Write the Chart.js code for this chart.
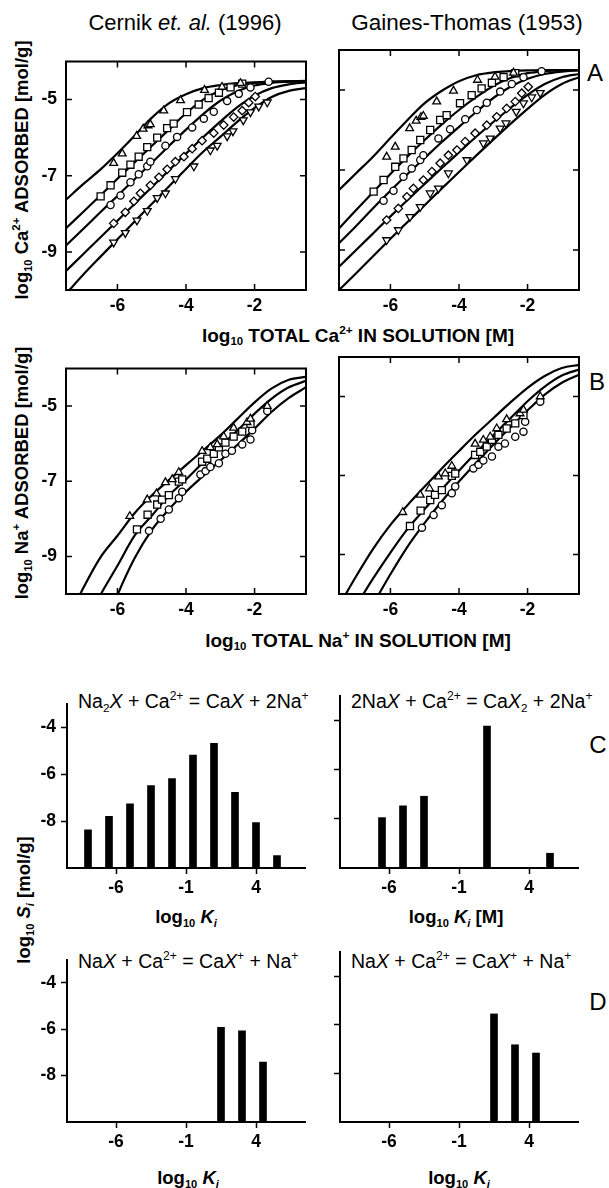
<!DOCTYPE html>
<html><head><meta charset="utf-8">
<script src="https://cdn.jsdelivr.net/npm/chart.js@4.4.1/dist/chart.umd.min.js"></script>
<style>
html,body{margin:0;padding:0;background:#fff;}
#fig{position:relative;width:609px;height:1188px;overflow:hidden;font-family:'Liberation Sans',Arial,Helvetica,sans-serif;color:#000;}
canvas{position:absolute;}
.t{position:absolute;white-space:nowrap;line-height:1;transform:translate(-50%,-50%);}
.l{transform:translate(0,-50%);}
.r{transform:translate(-50%,-50%) rotate(-90deg);}
.b{font-weight:bold;}
sub{font-size:0.6em;vertical-align:-0.35em;line-height:0;}
sup{font-size:0.62em;vertical-align:0.65em;line-height:0;}
</style></head><body><div id="fig">
<div class="t" style="left:185px;top:23px;font-size:22px">Cernik <i>et. al.</i> (1996)</div>
<div class="t" style="left:467px;top:23px;font-size:22.5px">Gaines-Thomas (1953)</div>
<div class="t" style="left:595px;top:73px;font-size:24px">A</div>
<div class="t" style="left:597px;top:382px;font-size:24px">B</div>
<div class="t" style="left:598px;top:745px;font-size:24px">C</div>
<div class="t" style="left:598px;top:1002px;font-size:24px">D</div>
<div class="t b" style="left:358px;top:335px;font-size:19px">log<sub>10</sub> TOTAL Ca<sup>2+</sup> IN SOLUTION [M]</div>
<div class="t b" style="left:358px;top:640px;font-size:19px">log<sub>10</sub> TOTAL Na<sup>+</sup> IN SOLUTION [M]</div>
<div class="t r b" style="left:22px;top:170px;font-size:18.5px">log<sub>10</sub> Ca<sup>2+</sup> ADSORBED [mol/g]</div>
<div class="t r b" style="left:22px;top:473px;font-size:18.5px">log<sub>10</sub> Na<sup>+</sup> ADSORBED [mol/g]</div>
<div class="t r b" style="left:24px;top:900px;font-size:18.5px">log<sub>10</sub> <i>S<sub>i</sub></i> [mol/g]</div>
<div class="t l" style="left:78px;top:702px;font-size:19.5px">Na<sub>2</sub><i>X</i> + Ca<sup>2+</sup> = Ca<i>X</i> + 2Na<sup>+</sup></div>
<div class="t l" style="left:351px;top:702px;font-size:19.5px">2Na<i>X</i> + Ca<sup>2+</sup> = Ca<i>X</i><sub>2</sub> + 2Na<sup>+</sup></div>
<div class="t l" style="left:78px;top:962px;font-size:19.5px">Na<i>X</i> + Ca<sup>2+</sup> = Ca<i>X</i><sup>+</sup> + Na<sup>+</sup></div>
<div class="t l" style="left:351px;top:962px;font-size:19.5px">Na<i>X</i> + Ca<sup>2+</sup> = Ca<i>X</i><sup>+</sup> + Na<sup>+</sup></div>
<div class="t b" style="left:186px;top:917px;font-size:18.5px">log<sub>10</sub> <i>K<sub>i</sub></i></div>
<div class="t b" style="left:456px;top:917px;font-size:18.5px">log<sub>10</sub> <i>K<sub>i</sub></i> [M]</div>
<div class="t b" style="left:188px;top:1178px;font-size:18.5px">log<sub>10</sub> <i>K<sub>i</sub></i></div>
<div class="t b" style="left:459px;top:1178px;font-size:18.5px">log<sub>10</sub> <i>K<sub>i</sub></i></div>
</div>
<script>
// ---------- DATA ----------
const xGrid = [-7.5,-7,-6.5,-6,-5.5,-5,-4.5,-4,-3.5,-3,-2.5,-2,-1.5,-1,-0.5];
const caTickX = [-6,-4,-2];
const caTickY = [-9,-7,-5];

// Ca2+ model curves (Cernik et al.)
const caCerTri = [-7.63,-7.22,-6.84,-6.41,-5.95,-5.48,-5.10,-4.86,-4.70,-4.62,-4.57,-4.55,-4.53,-4.52,-4.52];
const caCerSq  = [-8.38,-7.95,-7.52,-7.08,-6.65,-6.22,-5.79,-5.36,-5.00,-4.76,-4.62,-4.56,-4.53,-4.52,-4.51];
const caCerCi  = [-8.83,-8.40,-7.96,-7.53,-7.09,-6.66,-6.22,-5.79,-5.38,-5.03,-4.78,-4.63,-4.56,-4.53,-4.52];
const caCerDi  = [-9.50,-9.06,-8.62,-8.18,-7.74,-7.30,-6.86,-6.42,-5.99,-5.58,-5.20,-4.90,-4.70,-4.60,-4.55];
const caCerDt  = [-10.10,-9.60,-9.13,-8.67,-8.20,-7.74,-7.28,-6.82,-6.37,-5.98,-5.58,-5.22,-4.93,-4.77,-4.70];
// Ca2+ model curves (Gaines-Thomas)
const caGTTri = [-7.50,-7.08,-6.66,-6.20,-5.75,-5.33,-5.02,-4.78,-4.63,-4.56,-4.53,-4.51,-4.50,-4.50,-4.50];
const caGTSq  = [-8.46,-8.00,-7.55,-7.10,-6.66,-6.25,-5.86,-5.50,-5.18,-4.90,-4.70,-4.58,-4.53,-4.51,-4.50];
const caGTCi  = [-8.83,-8.40,-7.95,-7.52,-7.10,-6.70,-6.30,-5.92,-5.55,-5.20,-4.92,-4.72,-4.60,-4.54,-4.51];
const caGTDi  = [-9.42,-9.00,-8.58,-8.16,-7.75,-7.35,-6.95,-6.56,-6.17,-5.80,-5.45,-5.12,-4.85,-4.68,-4.60];
const caGTDt  = [-10.00,-9.58,-9.15,-8.72,-8.30,-7.88,-7.46,-7.05,-6.64,-6.24,-5.85,-5.47,-5.12,-4.85,-4.68];

// Ca2+ measured points
const caTriX = [-6.11,-5.86,-5.44,-5.25,-5.11,-5.04,-4.65,-4.16,-3.46,-2.95,-2.41];
const caTriY = [-6.67,-6.42,-5.96,-5.77,-5.68,-5.65,-5.29,-5.02,-4.75,-4.67,-4.57];
const caSqX = [-6.49,-6.20,-5.86,-5.62,-5.38,-5.13,-4.84,-4.55,-4.36,-3.97,-3.63,-3.34,-3.04,-2.70,-2.36];
const caSqY = [-7.54,-7.25,-6.92,-6.71,-6.50,-6.25,-6.00,-5.75,-5.63,-5.33,-5.13,-4.96,-4.82,-4.68,-4.58];
const caCiX = [-6.20,-5.91,-5.62,-5.38,-5.13,-5.04,-4.60,-4.26,-3.82,-3.48,-3.19,-2.80,-2.46,-2.12,-1.59];
const caCiY = [-7.77,-7.52,-7.17,-6.96,-6.75,-6.63,-6.21,-5.98,-5.73,-5.50,-5.32,-5.04,-4.85,-4.68,-4.53];
const caDiX = [-6.11,-5.77,-5.52,-5.33,-5.04,-4.79,-4.55,-4.31,-4.06,-3.82,-3.53,-3.19,-2.90,-2.61,-2.36,-2.17,-1.98];
const caDiY = [-8.25,-7.96,-7.67,-7.46,-7.25,-7.04,-6.83,-6.63,-6.50,-6.29,-6.08,-5.88,-5.67,-5.46,-5.29,-5.08,-4.92];
const caDtX = [-6.11,-5.77,-5.43,-5.13,-4.84,-4.60,-4.31,-3.77,-3.29,-3.09,-2.80,-2.63,-2.33,-2.12,-1.88,-1.63];
const caDtY = [-8.75,-8.50,-8.17,-7.92,-7.58,-7.46,-7.08,-6.75,-6.33,-6.21,-5.96,-5.83,-5.54,-5.33,-5.18,-5.07];

// Na+ model curves (Cernik et al.)
const naCerTri = [-10.80,-9.85,-9.03,-8.45,-7.85,-7.38,-6.97,-6.57,-6.18,-5.78,-5.34,-4.90,-4.53,-4.30,-4.22];
const naCerSq  = [-11.80,-10.90,-10.03,-9.25,-8.45,-7.92,-7.38,-6.95,-6.50,-6.07,-5.65,-5.20,-4.80,-4.50,-4.33];
const naCerCi  = [-13.60,-12.40,-11.20,-10.03,-9.05,-8.30,-7.75,-7.28,-6.86,-6.45,-6.03,-5.60,-5.15,-4.78,-4.50];
// Na+ model curves (Gaines-Thomas)
const naGTTri = [-10.30,-9.55,-8.85,-8.25,-7.75,-7.28,-6.82,-6.38,-5.95,-5.55,-5.15,-4.78,-4.48,-4.28,-4.20];
const naGTSq  = [-11.00,-10.30,-9.60,-8.95,-8.35,-7.85,-7.35,-6.88,-6.42,-5.98,-5.55,-5.12,-4.75,-4.47,-4.32];
const naGTCi  = [-11.70,-11.00,-10.25,-9.50,-8.80,-8.20,-7.65,-7.15,-6.68,-6.22,-5.78,-5.35,-4.95,-4.65,-4.45];

// Na+ measured points
const naTriX = [-5.64,-5.13,-4.86,-4.60,-4.40,-4.21,-3.53,-3.29,-3.09,-2.90,-2.61,-2.22,-2.12,-1.63];
const naTriY = [-7.93,-7.49,-7.33,-7.03,-6.95,-6.76,-6.20,-6.10,-6.02,-5.81,-5.58,-5.43,-5.34,-5.00];
const naSqX = [-5.43,-5.12,-4.84,-4.70,-4.50,-4.21,-4.11,-3.53,-3.38,-3.19,-3.04,-2.85,-2.61,-2.36,-2.12];
const naSqY = [-8.28,-7.89,-7.62,-7.49,-7.37,-7.01,-6.95,-6.48,-6.40,-6.27,-6.10,-5.97,-5.81,-5.68,-5.47];
const naCiX = [-5.08,-4.74,-4.50,-4.21,-4.11,-3.58,-3.43,-3.29,-3.04,-2.85,-2.66,-2.36,-2.12,-2.07,-1.63];
const naCiY = [-8.32,-8.00,-7.75,-7.45,-7.28,-6.82,-6.73,-6.62,-6.52,-6.27,-6.19,-6.02,-5.89,-5.64,-5.13];

// Site distributions (bars)
const kTickX = [-6,-1,4];
const sTickY = [-8,-6,-4];
const kC1 = [-8,-6.5,-5,-3.5,-2,-0.5,1,2.5,4,5.5];
const sC1 = [-8.38,-7.80,-7.27,-6.49,-6.20,-5.20,-4.70,-6.78,-8.07,-9.47];
const kC2 = [-6.5,-5,-3.5,1,5.5];
const sC2 = [-7.95,-7.47,-7.08,-4.22,-9.40];
const kD1 = [1.5,3,4.5];
const sD1 = [-5.92,-6.07,-7.42];
const kD2 = [1.5,3,4.5];
const sD2 = [-5.55,-6.82,-7.16];

// ---------- RENDERING ----------
const FONT = "'Liberation Sans', Arial, Helvetica, sans-serif";
const fig = document.getElementById('fig');
const xy = (xs, ys) => xs.map((x, i) => ({x: x, y: ys[i]}));
const tickSet = arr => s => { s.ticks = arr.map(v => ({value: v})); };

function makeCanvas(box, yW, padTop, padRight, xH) {
  const c = document.createElement('canvas');
  const W = yW + box.w + padRight, H = padTop + box.h + xH;
  c.width = W; c.height = H;
  c.style.left = (box.l - yW) + 'px'; c.style.top = (box.t - padTop) + 'px';
  c.style.width = W + 'px'; c.style.height = H + 'px';
  fig.appendChild(c);
  return c;
}

const framePlugin = {
  id: 'frame',
  afterDatasetsDraw(chart) {
    const {ctx, chartArea: a, scales: {x, y}} = chart;
    ctx.save();
    ctx.strokeStyle = '#000';
    ctx.lineWidth = 1.5;
    ctx.beginPath();
    x.ticks.forEach(t => {
      const p = x.getPixelForValue(t.value);
      ctx.moveTo(p, a.bottom); ctx.lineTo(p, a.bottom - 6);
      ctx.moveTo(p, a.top); ctx.lineTo(p, a.top + 6);
    });
    y.ticks.forEach(t => {
      const p = y.getPixelForValue(t.value);
      ctx.moveTo(a.left, p); ctx.lineTo(a.left + 6, p);
      ctx.moveTo(a.right, p); ctx.lineTo(a.right - 6, p);
    });
    ctx.stroke();
    ctx.lineWidth = 2;
    ctx.strokeRect(a.left, a.top, a.right - a.left, a.bottom - a.top);
    ctx.restore();
  }
};

function curve(arr) {
  return {data: xy(xGrid, arr), showLine: true, pointRadius: 0, borderColor: '#000',
          borderWidth: 2.2, cubicInterpolationMode: 'monotone', order: 2};
}
function pts(xs, ys, style, r, rot) {
  return {data: xy(xs, ys), showLine: false, pointStyle: style, pointRadius: r,
          pointRotation: rot || 0, pointBackgroundColor: '#fff', pointBorderColor: '#000',
          pointBorderWidth: 1.3, order: 1};
}

function isoChart(box, showY, curves, points) {
  const yW = showY ? 50 : 30, padTop = 8, padRight = 12, xH = 32;
  const c = makeCanvas(box, yW, padTop, padRight, xH);
  const tickFont = {family: FONT, size: 17.5, weight: 'bold'};
  new Chart(c, {
    type: 'scatter',
    data: {datasets: [...points, ...curves]},
    options: {
      responsive: false, animation: false, devicePixelRatio: 1,
      layout: {padding: {left: 0, top: padTop, right: padRight, bottom: 0}},
      plugins: {legend: {display: false}, tooltip: {enabled: false}},
      scales: {
        x: {type: 'linear', min: -7.5, max: -0.5, afterBuildTicks: tickSet(caTickX),
            afterFit: s => { s.height = xH; },
            grid: {display: false, drawTicks: false}, border: {display: false},
            ticks: {font: tickFont, color: '#000', padding: 6, maxRotation: 0, autoSkip: false,
                    callback: v => String(v)}},
        y: {type: 'linear', min: -10, max: -4, afterBuildTicks: tickSet(caTickY),
            afterFit: s => { s.width = yW; },
            grid: {display: false, drawTicks: false}, border: {display: false},
            ticks: {display: showY, font: tickFont, color: '#000', padding: 9, autoSkip: false,
                    callback: v => String(v)}}
      }
    },
    plugins: [framePlugin]
  });
}

function barChart(box, showY, ks, ss) {
  const yW = showY ? 50 : 30, padTop = 8, padRight = 12, xH = 32;
  const c = makeCanvas(box, yW, padTop, padRight, xH);
  const tickFont = {family: FONT, size: 17.5, weight: 'bold'};
  const gridOpt = {display: true, drawOnChartArea: false, drawTicks: true, tickLength: 6,
                   tickColor: '#000', tickWidth: 1.5, color: '#000', offset: false};
  new Chart(c, {
    type: 'bar',
    data: {datasets: [{data: ks.map((k, i) => ({x: k, y: [-10, ss[i]]})),
                       backgroundColor: '#000', borderWidth: 0, barThickness: 7}]},
    options: {
      responsive: false, animation: false, devicePixelRatio: 1,
      layout: {padding: {left: 0, top: padTop, right: padRight, bottom: 0}},
      plugins: {legend: {display: false}, tooltip: {enabled: false}},
      scales: {
        x: {type: 'linear', min: -9.5, max: 7.5, offset: false, afterBuildTicks: tickSet(kTickX),
            afterFit: s => { s.height = xH; },
            grid: gridOpt, border: {display: true, color: '#000', width: 2},
            ticks: {font: tickFont, color: '#000', padding: 4, maxRotation: 0, autoSkip: false,
                    callback: v => String(v)}},
        y: {type: 'linear', min: -10, max: -3, beginAtZero: false, afterBuildTicks: tickSet(sTickY),
            afterFit: s => { s.width = yW; },
            grid: gridOpt, border: {display: true, color: '#000', width: 2},
            ticks: {display: showY, font: tickFont, color: '#000', padding: 5, autoSkip: false,
                    callback: v => String(v)}}
      }
    }
  });
}

const caPoints = [
  pts(caTriX, caTriY, 'triangle', 4.5),
  pts(caSqX, caSqY, 'rect', 5),
  pts(caCiX, caCiY, 'circle', 3.6),
  pts(caDiX, caDiY, 'rectRot', 4.2),
  pts(caDtX, caDtY, 'triangle', 4.5, 180)
];
const naPoints = [
  pts(naTriX, naTriY, 'triangle', 4.5),
  pts(naSqX, naSqY, 'rect', 5),
  pts(naCiX, naCiY, 'circle', 3.6)
];

isoChart({l: 66, t: 50, w: 240, h: 240}, true,
  [curve(caCerTri), curve(caCerSq), curve(caCerCi), curve(caCerDi), curve(caCerDt)], caPoints);
isoChart({l: 339, t: 50, w: 240, h: 240}, false,
  [curve(caGTTri), curve(caGTSq), curve(caGTCi), curve(caGTDi), curve(caGTDt)], caPoints);
isoChart({l: 66, t: 357, w: 240, h: 237}, true,
  [curve(naCerTri), curve(naCerSq), curve(naCerCi)], naPoints);
isoChart({l: 339, t: 357, w: 240, h: 237}, false,
  [curve(naGTTri), curve(naGTSq), curve(naGTCi)], naPoints);

barChart({l: 67, t: 696, w: 238, h: 172}, true, kC1, sC1);
barChart({l: 340, t: 696, w: 238, h: 172}, false, kC2, sC2);
barChart({l: 67, t: 952, w: 238, h: 170}, true, kD1, sD1);
barChart({l: 340, t: 952, w: 238, h: 170}, false, kD2, sD2);
</script>
</body></html>
